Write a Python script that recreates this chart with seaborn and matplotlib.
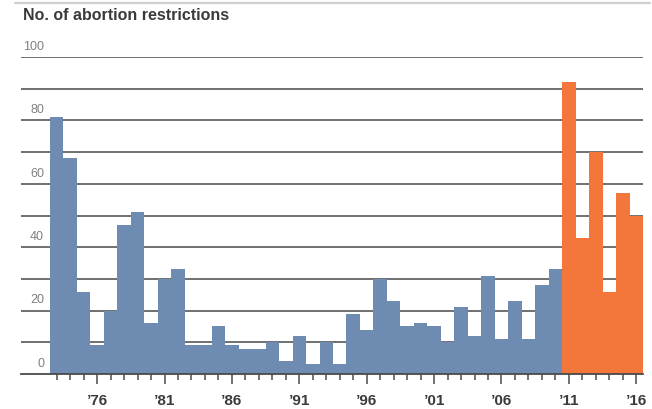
import matplotlib
matplotlib.use("Agg")
import matplotlib.pyplot as plt
import matplotlib.transforms as mtransforms
from matplotlib.lines import Line2D
import seaborn as sns
import pandas as pd

years = list(range(1973, 2017))
restrictions = [81, 68, 26, 9, 20, 47, 51, 16, 30, 33,
                9, 9, 15, 9, 8, 8, 10, 4, 12, 3,
                10, 3, 19, 14, 30, 23, 15, 16, 15, 10,
                21, 12, 31, 11, 23, 11, 28, 33,
                92, 43, 70, 26, 57, 50]
period = ["before" if y < 2011 else "since" for y in years]
labelled_years = [1976, 1981, 1986, 1991, 1996, 2001, 2006, 2011, 2016]
y_labels = [0, 20, 40, 60, 80, 100]

BLUE = "#6e8cb1"
ORANGE = "#f3763b"

df = pd.DataFrame({"year": [str(y) for y in years],
                   "count": restrictions,
                   "period": period})

sns.set_theme(style="white")
plt.rcParams["font.family"] = ["Liberation Sans", "DejaVu Sans"]

fig = plt.figure(figsize=(6.52, 4.09), dpi=100)
ax = fig.add_axes([21 / 652, 1 - 374 / 409, (643 - 21) / 652, (374 - 57) / 409])

sns.barplot(data=df, x="year", y="count", hue="period",
            palette={"before": BLUE, "since": ORANGE},
            dodge=False, width=1.0, linewidth=0, legend=False,
            saturation=1, ax=ax)

n = len(years)
ax.set_xlim(-2.65, n - 0.5)
ax.set_ylim(0, 100)

# horizontal rules every 10, behind the bars
ax.set_yticks(range(10, 101, 10))
ax.set_yticklabels([])
ax.tick_params(axis="y", length=0)
ax.yaxis.grid(True, color="#646464", linewidth=1.3)
ax.xaxis.grid(False)
ax.set_axisbelow(True)

for side in ["top", "right", "left"]:
    ax.spines[side].set_visible(False)
ax.spines["bottom"].set_color("#4a4a4a")
ax.spines["bottom"].set_linewidth(1.3)

# year ticks: short for every year, long for labelled years
major_idx = [years.index(y) for y in labelled_years]
minor_idx = [i for i in range(n) if i not in major_idx]
ax.set_xticks(major_idx)
ax.set_xticklabels(["\u2019" + str(y)[2:] for y in labelled_years],
                   fontsize=11, fontweight="bold", color="#3c3c3c")
ax.set_xticks(minor_idx, minor=True)
ax.tick_params(axis="x", which="major", bottom=True, length=7, width=1.1,
               color="#4a4a4a", pad=7.5)
ax.tick_params(axis="x", which="minor", bottom=True, length=4, width=1.1,
               color="#4a4a4a")
ax.set_xlabel("")
ax.set_ylabel("")

# value labels sitting just above their rules
trans = mtransforms.offset_copy(ax.get_yaxis_transform(), fig=fig, x=0, y=3, units="points")
for v in y_labels:
    ax.text(0.037, v, str(v), transform=trans, ha="right", va="bottom",
            fontsize=9, color="#808080")

fig.text(23 / 652, 1 - 16 / 409, "No. of abortion restrictions",
         ha="left", va="center", fontsize=11.5, fontweight="bold", color="#3a3a3a")

fig.add_artist(Line2D([15 / 652, 650 / 652], [1 - 3 / 409, 1 - 3 / 409],
                      transform=fig.transFigure, color="#cfcfcf", linewidth=1.6))

fig.savefig("out.png", dpi=100, facecolor="white")
